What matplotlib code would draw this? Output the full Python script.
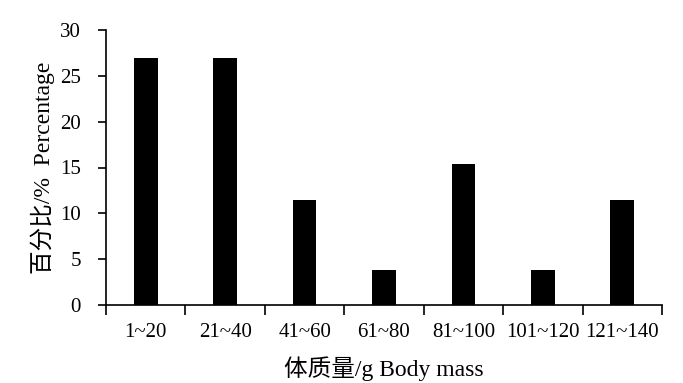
import matplotlib.pyplot as plt
import numpy as np

categories = ['1~20', '21~40', '41~60', '61~80', '81~100', '101~120', '121~140']
percent = [26.9, 26.9, 11.5, 3.8, 15.4, 3.8, 11.5]
yticks = [0, 5, 10, 15, 20, 25, 30]

plt.rcParams['font.family'] = ['Liberation Serif', 'Noto Sans CJK SC']

fig = plt.figure(figsize=(6.83, 3.83), dpi=100)
ax = fig.add_axes([106/683, 1-305/383, (662-106)/683, (305-30)/383])

x = np.arange(len(categories))
ax.bar(x, percent, width=0.3, color='black')

ax.set_xlim(-0.5, len(categories)-0.5)
ax.set_ylim(0, 30)
ax.set_yticks(yticks)
ax.set_xticks(np.arange(len(categories)+1)-0.5)
ax.set_xticklabels([])
ax.set_xticks(x, minor=True)
ax.set_xticklabels(categories, minor=True)
ax.tick_params(axis='x', which='minor', length=0, pad=13, labelsize=15)
ax.tick_params(axis='x', which='major', length=7, width=1.2, direction='out')
ax.tick_params(axis='y', length=6, width=1.2, direction='out', labelsize=15, pad=12)

for s in ['top', 'right']:
    ax.spines[s].set_visible(False)
for s in ['left', 'bottom']:
    ax.spines[s].set_linewidth(1.2)

ax.set_xlabel('体质量/g Body mass', fontsize=17, labelpad=10)
ax.set_ylabel('百分比/%  Percentage', fontsize=17, labelpad=4)

fig.savefig('out.png', dpi=100)
